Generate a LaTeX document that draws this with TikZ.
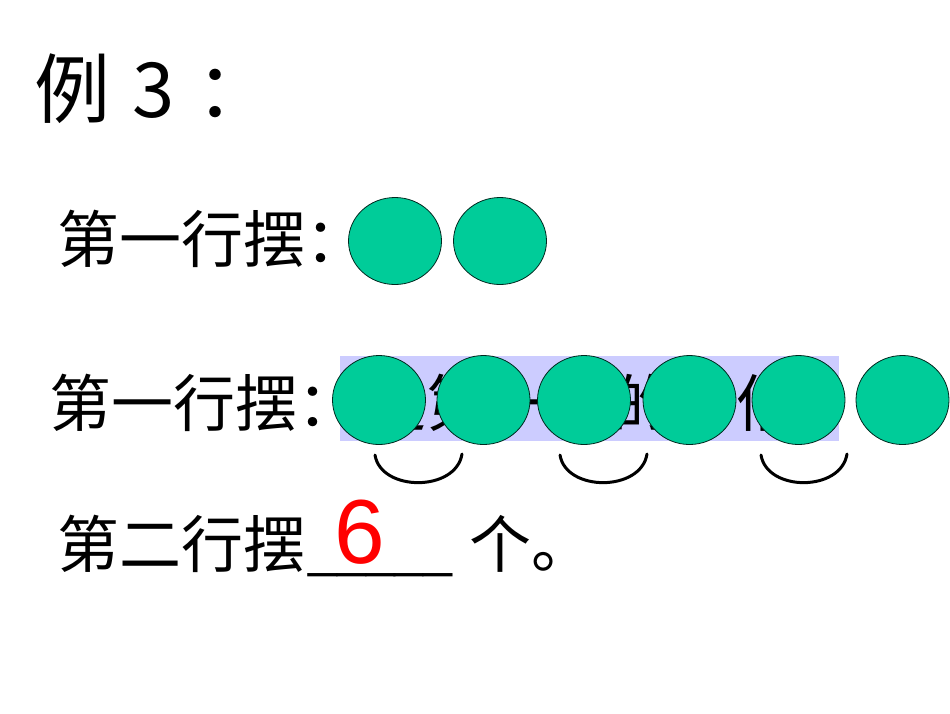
\documentclass[tikz,border=0pt]{standalone}
\usepackage{fontspec}
\usetikzlibrary{shapes.geometric}
\newfontfamily\cjk{Noto Sans CJK SC}
\newfontfamily\lib{Liberation Sans}
\definecolor{ballgreen}{RGB}{0,204,153}
\definecolor{lavender}{RGB}{204,204,255}
\tikzset{
  ball/.style={ellipse, draw=black!80!ballgreen, line width=0.8pt, fill=ballgreen, minimum width=93pt, minimum height=87pt, inner sep=0pt},
  ballb/.style={ball, minimum height=89pt},
  lbl/.style={anchor=base west, inner sep=0pt, font=\cjk\fontsize{62}{62}\selectfont},
  ttl/.style={anchor=base west, inner sep=0pt, font=\cjk\fontsize{76}{76}\selectfont},
  brace/.style={line width=3pt, line cap=round},
}
\begin{document}
\begin{tikzpicture}[x=1pt,y=-1pt]
\useasboundingbox (0,0) rectangle (950,713);
\fill[white] (0,0) rectangle (950,713);
% title
\node[ttl] (t1) at (34,117) {例};
\node[ttl] (t2) at (132,117) {3};
\node[ttl] (t3) at (196,117) {：};
% row 1
\node[lbl] (r1) at (57,262) {第一行摆：};
\node[ball] (a1) at (395,241) {};
\node[ball] (a2) at (500,241) {};
% row 2
\fill[lavender] (340,356) rectangle (839,441);
\node[lbl] (hid) at (364,426) {是第一行的 3 倍};
\node[lbl] (r2) at (49,426) {第一行摆：};
\node[ballb] (b1) at (379,400) {};
\node[ballb] (b2) at (483.5,400) {};
\node[ballb] (b3) at (584,400) {};
\node[ballb] (b4) at (689.5,400) {};
\node[ballb] (b5) at (798.5,400) {};
\node[ballb] (b6) at (902.5,400) {};
% braces
\draw[brace] (375,455) .. controls (381,492) and (456,492) .. (462,454);
\draw[brace] (560,455) .. controls (566,492) and (641,492) .. (647,454);
\draw[brace] (761,455) .. controls (767,492) and (841,492) .. (847,454);
% row 3
\node[lbl] (r3) at (57,567) {第二行摆};
\node[anchor=base west, inner sep=0pt, font=\lib\fontsize{52}{52}\selectfont] (u) at (308,566) {\_\_\_\_\_};
\node[anchor=base west, inner sep=0pt, text=red, font=\lib\fontsize{91}{91}\selectfont] (six) at (334,563) {6};
\node[lbl] (ge) at (469,567) {个。};
\end{tikzpicture}
\end{document}
